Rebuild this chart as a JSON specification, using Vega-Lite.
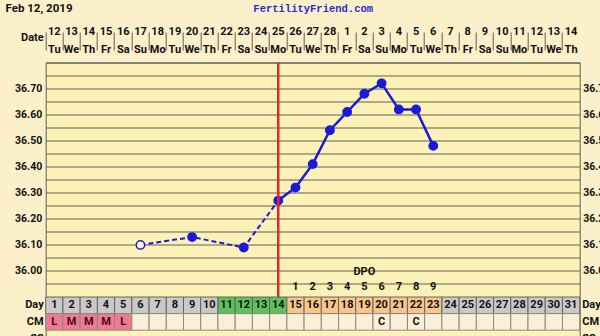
{
  "$schema": "https://vega.github.io/schema/vega-lite/v6.json",
  "width": 534,
  "height": 273.5,
  "autosize": {"type": "none"},
  "padding": {"left": 45.7, "top": 62.5, "right": 20.3, "bottom": 0},
  "background": "#FBF0C9",
  "config": {
    "view": {"fill": "#FCF2B7", "stroke": "#5f5f54", "strokeWidth": 1},
    "axis": {"labelFont": "Roboto", "labelFontWeight": "bold", "labelFontSize": 10.5, "labelColor": "#111111", "titleFont": "Roboto", "gridColor": "#5f5f54", "gridOpacity": 1, "gridWidth": 1},
    "text": {"font": "Roboto", "fontWeight": "bold", "fontSize": 11, "color": "#111111"}
  },
  "datasets": {
    "temps": [
      {"day": 6, "temp": 36.10, "open": true},
      {"day": 9, "temp": 36.13, "open": false},
      {"day": 12, "temp": 36.09, "open": false},
      {"day": 14, "temp": 36.27, "open": false},
      {"day": 15, "temp": 36.32, "open": false},
      {"day": 16, "temp": 36.41, "open": false},
      {"day": 17, "temp": 36.54, "open": false},
      {"day": 18, "temp": 36.61, "open": false},
      {"day": 19, "temp": 36.68, "open": false},
      {"day": 20, "temp": 36.72, "open": false},
      {"day": 21, "temp": 36.62, "open": false},
      {"day": 22, "temp": 36.62, "open": false},
      {"day": 23, "temp": 36.48, "open": false}
    ],
    "days": [
      {"day": 1, "date": 12, "dow": "Tu", "phase": "pre", "cm": "L"},
      {"day": 2, "date": 13, "dow": "We", "phase": "pre", "cm": "M"},
      {"day": 3, "date": 14, "dow": "Th", "phase": "pre", "cm": "M"},
      {"day": 4, "date": 15, "dow": "Fr", "phase": "pre", "cm": "M"},
      {"day": 5, "date": 16, "dow": "Sa", "phase": "pre", "cm": "L"},
      {"day": 6, "date": 17, "dow": "Su", "phase": "pre", "cm": ""},
      {"day": 7, "date": 18, "dow": "Mo", "phase": "pre", "cm": ""},
      {"day": 8, "date": 19, "dow": "Tu", "phase": "pre", "cm": ""},
      {"day": 9, "date": 20, "dow": "We", "phase": "pre", "cm": ""},
      {"day": 10, "date": 21, "dow": "Th", "phase": "pre", "cm": ""},
      {"day": 11, "date": 22, "dow": "Fr", "phase": "fertile", "cm": ""},
      {"day": 12, "date": 23, "dow": "Sa", "phase": "fertile", "cm": ""},
      {"day": 13, "date": 24, "dow": "Su", "phase": "fertile", "cm": ""},
      {"day": 14, "date": 25, "dow": "Mo", "phase": "fertile", "cm": ""},
      {"day": 15, "date": 26, "dow": "Tu", "phase": "luteal", "cm": "", "dpo": 1},
      {"day": 16, "date": 27, "dow": "We", "phase": "luteal", "cm": "", "dpo": 2},
      {"day": 17, "date": 28, "dow": "Th", "phase": "luteal", "cm": "", "dpo": 3},
      {"day": 18, "date": 1, "dow": "Fr", "phase": "luteal", "cm": "", "dpo": 4},
      {"day": 19, "date": 2, "dow": "Sa", "phase": "luteal", "cm": "", "dpo": 5},
      {"day": 20, "date": 3, "dow": "Su", "phase": "luteal", "cm": "C", "dpo": 6},
      {"day": 21, "date": 4, "dow": "Mo", "phase": "luteal", "cm": "", "dpo": 7},
      {"day": 22, "date": 5, "dow": "Tu", "phase": "luteal", "cm": "C", "dpo": 8},
      {"day": 23, "date": 6, "dow": "We", "phase": "luteal", "cm": "", "dpo": 9},
      {"day": 24, "date": 7, "dow": "Th", "phase": "future", "cm": ""},
      {"day": 25, "date": 8, "dow": "Fr", "phase": "future", "cm": ""},
      {"day": 26, "date": 9, "dow": "Sa", "phase": "future", "cm": ""},
      {"day": 27, "date": 10, "dow": "Su", "phase": "future", "cm": ""},
      {"day": 28, "date": 11, "dow": "Mo", "phase": "future", "cm": ""},
      {"day": 29, "date": 12, "dow": "Tu", "phase": "future", "cm": ""},
      {"day": 30, "date": 13, "dow": "We", "phase": "future", "cm": ""},
      {"day": 31, "date": 14, "dow": "Th", "phase": "future", "cm": ""}
    ],
    "ovulation": [{"day": 14}]
  },
  "resolve": {"scale": {"y": "independent"}, "axis": {"y": "independent", "x": "independent"}},
  "layer": [
    {
      "data": {"name": "days"},
      "resolve": {"axis": {"y": "independent", "x": "independent"}},
      "layer": [
        {
          "mark": {"type": "text", "fontSize": 11},
          "encoding": {
            "x": {"field": "day", "type": "ordinal", "scale": {"domain": [1,2,3,4,5,6,7,8,9,10,11,12,13,14,15,16,17,18,19,20,21,22,23,24,25,26,27,28,29,30,31], "paddingInner": 0, "paddingOuter": 0},
              "axis": {"orient": "top", "grid": true, "bandPosition": 0, "labels": false, "ticks": false, "domain": false, "title": "FertilityFriend.com", "titleFont": "Liberation Mono", "titleFontWeight": "bold", "titleFontSize": 10.5, "titleColor": "#2a2ad4", "titleY": -54.5, "titleBaseline": "middle"}},
            "y": {"datum": "date", "type": "nominal", "scale": {"type": "point", "domain": ["date", "dow"], "range": [-30.5, -12.5], "padding": 0},
              "axis": {"orient": "left", "labels": false, "ticks": false, "domain": false, "grid": false, "title": "Date", "titleAngle": 0, "titleAlign": "right", "titleBaseline": "middle", "titleFont": "Roboto", "titleFontWeight": "bold", "titleFontSize": 11, "titleColor": "#111111", "titleX": -2.5, "titleY": -25.5}},
            "text": {"field": "date", "type": "nominal"}
          }
        },
        {
          "mark": {"type": "text", "fontSize": 11},
          "encoding": {
            "x": {"field": "day", "type": "ordinal", "axis": null},
            "y": {"datum": "dow", "type": "nominal", "axis": null},
            "text": {"field": "dow", "type": "nominal"}
          }
        }
      ]
    },
    {
      "data": {"name": "temps"},
      "resolve": {"axis": {"y": "independent"}},
      "layer": [
        {
          "transform": [{"filter": "datum.day <= 14"}],
          "mark": {"type": "line", "color": "#1a1ad8", "strokeWidth": 2, "strokeDash": [5, 3]},
          "encoding": {
            "x": {"field": "day", "type": "ordinal", "axis": null},
            "y": {"field": "temp", "type": "quantitative", "scale": {"domain": [35.9, 36.8], "range": [234.5, 0], "zero": false, "nice": false},
              "axis": {"orient": "left", "values": [35.9,35.95,36.0,36.05,36.1,36.15,36.2,36.25,36.3,36.35,36.4,36.45,36.5,36.55,36.6,36.65,36.7,36.75,36.8], "grid": true, "ticks": false, "domain": false, "labelPadding": 4, "labelExpr": "datum.value >= 35.99 && datum.value <= 36.71 && round(datum.value * 20) % 2 == 0 ? format(datum.value, '.2f') : ''", "title": "Feb 12, 2019", "titleAngle": 0, "titleAlign": "left", "titleBaseline": "middle", "titleFont": "Roboto", "titleFontWeight": "bold", "titleFontSize": 11.5, "titleColor": "#111111", "titleX": -40.7, "titleY": -54.5}}
          }
        },
        {
          "transform": [{"filter": "datum.day >= 14"}],
          "mark": {"type": "line", "color": "#1a1ad8", "strokeWidth": 2.5},
          "encoding": {
            "x": {"field": "day", "type": "ordinal", "axis": null},
            "y": {"field": "temp", "type": "quantitative",
              "axis": {"orient": "right", "values": [36.0,36.1,36.2,36.3,36.4,36.5,36.6,36.7], "grid": false, "ticks": false, "domain": false, "labelPadding": 3, "format": ".2f", "title": null}}
          }
        },
        {
          "mark": {"type": "point", "filled": true, "size": 70, "stroke": "#1a1ad8", "strokeWidth": 1.5, "opacity": 1},
          "encoding": {
            "x": {"field": "day", "type": "ordinal", "axis": null},
            "y": {"field": "temp", "type": "quantitative", "axis": null},
            "fill": {"condition": {"test": "datum.open", "value": "#ffffff"}, "value": "#1a1ad8"}
          }
        },
        {
          "data": {"name": "ovulation"},
          "mark": {"type": "rule", "color": "#e8262a", "strokeWidth": 2.5},
          "encoding": {
            "x": {"field": "day", "type": "ordinal", "axis": null},
            "y": {"datum": 36.8, "type": "quantitative", "axis": null},
            "y2": {"datum": 35.9}
          }
        }
      ]
    },
    {
      "data": {"name": "days"},
      "resolve": {"axis": {"y": "independent"}},
      "layer": [
        {
          "mark": {"type": "rect", "stroke": "#66665a", "strokeWidth": 1},
          "encoding": {
            "x": {"field": "day", "type": "ordinal", "axis": null},
            "y": {"datum": "Day", "type": "nominal", "scale": {"type": "band", "domain": ["DPO", "Nums", "Day", "CM", "SS"], "range": [201.3, 284.3], "paddingInner": 0, "paddingOuter": 0},
              "axis": {"orient": "left", "values": ["Day", "CM", "SS"], "ticks": false, "domain": false, "grid": false, "labelPadding": 2.5, "labelFontSize": 11, "title": null}},
            "fill": {"field": "phase", "type": "nominal", "scale": {"domain": ["pre", "fertile", "luteal", "future"], "range": ["#c9c9c9", "#5cc25c", "#f8c68c", "#c9c9c9"]}, "legend": null}
          }
        },
        {
          "mark": {"type": "text", "fontSize": 11},
          "encoding": {
            "x": {"field": "day", "type": "ordinal", "axis": null},
            "y": {"datum": "Day", "type": "nominal",
              "axis": {"orient": "right", "values": ["Day", "CM", "SS"], "ticks": false, "domain": false, "grid": false, "labelPadding": 2, "labelFontSize": 11, "title": null}},
            "text": {"field": "day", "type": "nominal"}
          }
        },
        {
          "mark": {"type": "rect", "stroke": "#8a8a7c", "strokeWidth": 1},
          "encoding": {
            "x": {"field": "day", "type": "ordinal", "axis": null},
            "y": {"datum": "CM", "type": "nominal", "axis": null},
            "fill": {"condition": {"test": "datum.cm === 'L' || datum.cm === 'M'", "value": "#ee7b92"}, "value": "#faf0d9"}
          }
        },
        {
          "mark": {"type": "text", "fontSize": 11},
          "encoding": {
            "x": {"field": "day", "type": "ordinal", "axis": null},
            "y": {"datum": "CM", "type": "nominal", "axis": null},
            "text": {"field": "cm", "type": "nominal"},
            "color": {"condition": {"test": "datum.cm === 'L' || datum.cm === 'M'", "value": "#4a0a1c"}, "value": "#111111"}
          }
        },
        {
          "transform": [{"filter": "datum.dpo != null"}],
          "mark": {"type": "text", "fontSize": 11, "dy": -2},
          "encoding": {
            "x": {"field": "day", "type": "ordinal", "axis": null},
            "y": {"datum": "Nums", "type": "nominal", "axis": null},
            "text": {"field": "dpo", "type": "nominal"}
          }
        },
        {
          "transform": [{"filter": "datum.day == 19"}],
          "mark": {"type": "text", "fontSize": 11},
          "encoding": {
            "x": {"field": "day", "type": "ordinal", "axis": null},
            "y": {"datum": "DPO", "type": "nominal", "axis": null},
            "text": {"value": "DPO"}
          }
        }
      ]
    }
  ]
}
